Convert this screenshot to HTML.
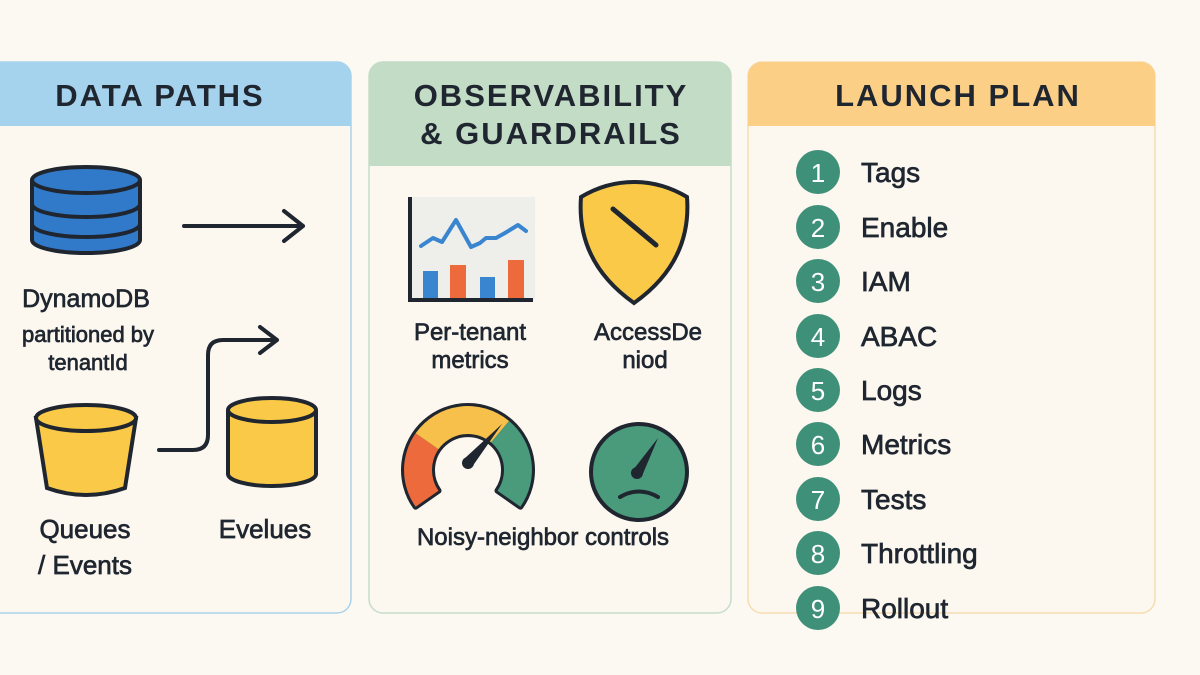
<!DOCTYPE html>
<html><head><meta charset="utf-8"><style>
html,body{margin:0;padding:0;background:#fcf9f2;}
svg{display:block;font-family:"Liberation Sans","DejaVu Sans",sans-serif;}
.t{stroke:#1f2630;stroke-width:0.7px;}
</style></head><body>
<svg width="1200" height="675" viewBox="0 0 1200 675" xmlns="http://www.w3.org/2000/svg">
<rect width="1200" height="675" fill="#fcf9f2"/>
<!-- Left panel -->
<rect x="-20" y="62" width="371" height="551" rx="14" fill="#fcf8f0" stroke="#a9d3ea" stroke-width="1.5"/>
<path d="M-20 62 H337 A14 14 0 0 1 351 76 V126 H-20 Z" fill="#a5d2ec"/>
<text x="160" y="106" font-size="31" font-weight="bold" fill="#1f2630" text-anchor="middle" letter-spacing="2">DATA PATHS</text>
<!-- blue db -->
<g stroke="#1f2630" stroke-width="4">
<path d="M32 180 V240 A54 13 0 0 0 140 240 V180" fill="#3179c9"/>
<ellipse cx="86" cy="180" rx="54" ry="13" fill="#3179c9"/>
<path d="M32 204 A54 13 0 0 0 140 204 M32 224 A54 13 0 0 0 140 224" fill="none"/>
</g>
<g stroke="#1f2630" stroke-width="4" fill="none" stroke-linecap="round" stroke-linejoin="round">
<path d="M184 226 H303 M284 211 L303 226 L284 241"/>
<path d="M159 450 H193 Q208 450 208 435 V355 Q208 340 223 340 H277 M260 327 L277 340 L260 353"/>
</g>
<text class="t" x="86" y="307" font-size="25" fill="#1f2630" text-anchor="middle">DynamoDB</text>
<text class="t" x="88" y="342" font-size="22" fill="#1f2630" text-anchor="middle">partitioned by</text>
<text class="t" x="88" y="370" font-size="22" fill="#1f2630" text-anchor="middle">tenantId</text>
<!-- bucket -->
<g stroke="#1f2630" stroke-width="4">
<path d="M36 418 L47 488 Q86 502 125 488 L136 418 Z" fill="#f9c947"/>
<ellipse cx="86" cy="418" rx="50" ry="13" fill="#f9c947"/>
</g>
<g stroke="#1f2630" stroke-width="4">
<path d="M228 410 V474 A44 12 0 0 0 316 474 V410" fill="#f9c947"/>
<ellipse cx="272" cy="410" rx="44" ry="12" fill="#f9c947"/>
</g>
<text class="t" x="85" y="538" font-size="26" fill="#1f2630" text-anchor="middle">Queues</text>
<text class="t" x="85" y="574" font-size="26" fill="#1f2630" text-anchor="middle">/ Events</text>
<text class="t" x="265" y="538" font-size="26" fill="#1f2630" text-anchor="middle">Evelues</text>
<!-- Middle panel -->
<rect x="369" y="62" width="362" height="551" rx="14" fill="#fcf8f0" stroke="#c5ddc9" stroke-width="1.5"/>
<path d="M369 76 A14 14 0 0 1 383 62 H717 A14 14 0 0 1 731 76 V166 H369 Z" fill="#c2dcc6"/>
<text x="551" y="106" font-size="31" font-weight="bold" fill="#1f2630" text-anchor="middle" letter-spacing="2">OBSERVABILITY</text>
<text x="551" y="144" font-size="31" font-weight="bold" fill="#1f2630" text-anchor="middle" letter-spacing="2">&amp; GUARDRAILS</text>
<!-- chart -->
<rect x="410" y="197" width="125" height="103" fill="#eeeeea"/>
<rect x="423" y="271" width="15" height="27" fill="#3a85cf"/>
<rect x="450" y="265" width="16" height="33" fill="#ec6a3b"/>
<rect x="480" y="277" width="15" height="21" fill="#3a85cf"/>
<rect x="508" y="260" width="16" height="38" fill="#ec6a3b"/>
<polyline points="421,246 433,238 442,242 456,220 471,247 480,243 486,238 496,238 505,233 518,225 526,231" fill="none" stroke="#3a85cf" stroke-width="4" stroke-linecap="round" stroke-linejoin="round"/>
<path d="M410 197 V300 H533" fill="none" stroke="#1f2630" stroke-width="4"/>
<!-- shield -->
<path d="M634 182 Q606 182 581 197 Q576 262 634 303 Q692 262 687 197 Q662 182 634 182 Z" fill="#f9c947" stroke="#1f2630" stroke-width="4"/>
<line x1="613" y1="209" x2="656" y2="245" stroke="#1f2630" stroke-width="5" stroke-linecap="round"/>
<text class="t" x="470" y="340" font-size="24" fill="#1f2630" text-anchor="middle">Per-tenant</text>
<text class="t" x="470" y="368" font-size="24" fill="#1f2630" text-anchor="middle">metrics</text>
<text class="t" x="648" y="340" font-size="24" fill="#1f2630" text-anchor="middle">AccessDe</text>
<text class="t" x="645" y="368" font-size="24" fill="#1f2630" text-anchor="middle">niod</text>
<!-- gauge -->
<path d="M415.6 506.7 A64 64 0 1 1 520.4 506.7 L497.5 490.7 A36 36 0 1 0 438.5 490.7 Z" fill="#1f2630" stroke="#1f2630" stroke-width="6" stroke-linejoin="round"/>
<path d="M415.6 506.7 A64 64 0 0 1 415.6 433.3 L438.5 449.3 A36 36 0 0 0 438.5 490.7 Z" fill="#ec6a3b"/>
<path d="M415.6 433.3 A64 64 0 0 1 509.1 421 L491.1 442.4 A36 36 0 0 0 438.5 449.3 Z" fill="#f6c04a"/>
<path d="M509.1 421 A64 64 0 0 1 520.4 506.7 L497.5 490.7 A36 36 0 0 0 491.1 442.4 Z" fill="#4a9a7c"/>
<path d="M464 459 L502 424 L472 467 Z" fill="#1f2630"/>
<circle cx="468" cy="463" r="6" fill="#1f2630"/>
<!-- sad gauge -->
<circle cx="639" cy="472" r="48" fill="#4a9a7c" stroke="#1f2630" stroke-width="4"/>
<path d="M633 470 L658 438 L642 476 Z" fill="#1f2630"/>
<circle cx="637" cy="473" r="6" fill="#1f2630"/>
<path d="M620 497 Q639 486 658 497" fill="none" stroke="#1f2630" stroke-width="4" stroke-linecap="round"/>
<text class="t" x="543" y="545" font-size="24" fill="#1f2630" text-anchor="middle">Noisy-neighbor controls</text>
<!-- Right panel -->
<rect x="748" y="62" width="407" height="551" rx="14" fill="#fcf8f0" stroke="#f6ddb0" stroke-width="1.5"/>
<path d="M748 76 A14 14 0 0 1 762 62 H1141 A14 14 0 0 1 1155 76 V126 H748 Z" fill="#fbcf85"/>
<text x="958" y="106" font-size="31" font-weight="bold" fill="#1f2630" text-anchor="middle" letter-spacing="2">LAUNCH PLAN</text>
<g font-size="28" fill="#1f2630">
<g><circle cx="818" cy="172" r="22" fill="#3f9079"/><text x="818" y="182" fill="#fff" text-anchor="middle" font-size="26">1</text><text class="t" x="861" y="182">Tags</text></g>
<g><circle cx="818" cy="227" r="22" fill="#3f9079"/><text x="818" y="237" fill="#fff" text-anchor="middle" font-size="26">2</text><text class="t" x="861" y="237">Enable</text></g>
<g><circle cx="818" cy="281" r="22" fill="#3f9079"/><text x="818" y="291" fill="#fff" text-anchor="middle" font-size="26">3</text><text class="t" x="861" y="291">IAM</text></g>
<g><circle cx="818" cy="336" r="22" fill="#3f9079"/><text x="818" y="346" fill="#fff" text-anchor="middle" font-size="26">4</text><text class="t" x="861" y="346">ABAC</text></g>
<g><circle cx="818" cy="390" r="22" fill="#3f9079"/><text x="818" y="400" fill="#fff" text-anchor="middle" font-size="26">5</text><text class="t" x="861" y="400">Logs</text></g>
<g><circle cx="818" cy="444" r="22" fill="#3f9079"/><text x="818" y="454" fill="#fff" text-anchor="middle" font-size="26">6</text><text class="t" x="861" y="454">Metrics</text></g>
<g><circle cx="818" cy="499" r="22" fill="#3f9079"/><text x="818" y="509" fill="#fff" text-anchor="middle" font-size="26">7</text><text class="t" x="861" y="509">Tests</text></g>
<g><circle cx="818" cy="553" r="22" fill="#3f9079"/><text x="818" y="563" fill="#fff" text-anchor="middle" font-size="26">8</text><text class="t" x="861" y="563">Throttling</text></g>
<g><circle cx="818" cy="608" r="22" fill="#3f9079"/><text x="818" y="618" fill="#fff" text-anchor="middle" font-size="26">9</text><text class="t" x="861" y="618">Rollout</text></g>
</g>
</svg>
</body></html>
